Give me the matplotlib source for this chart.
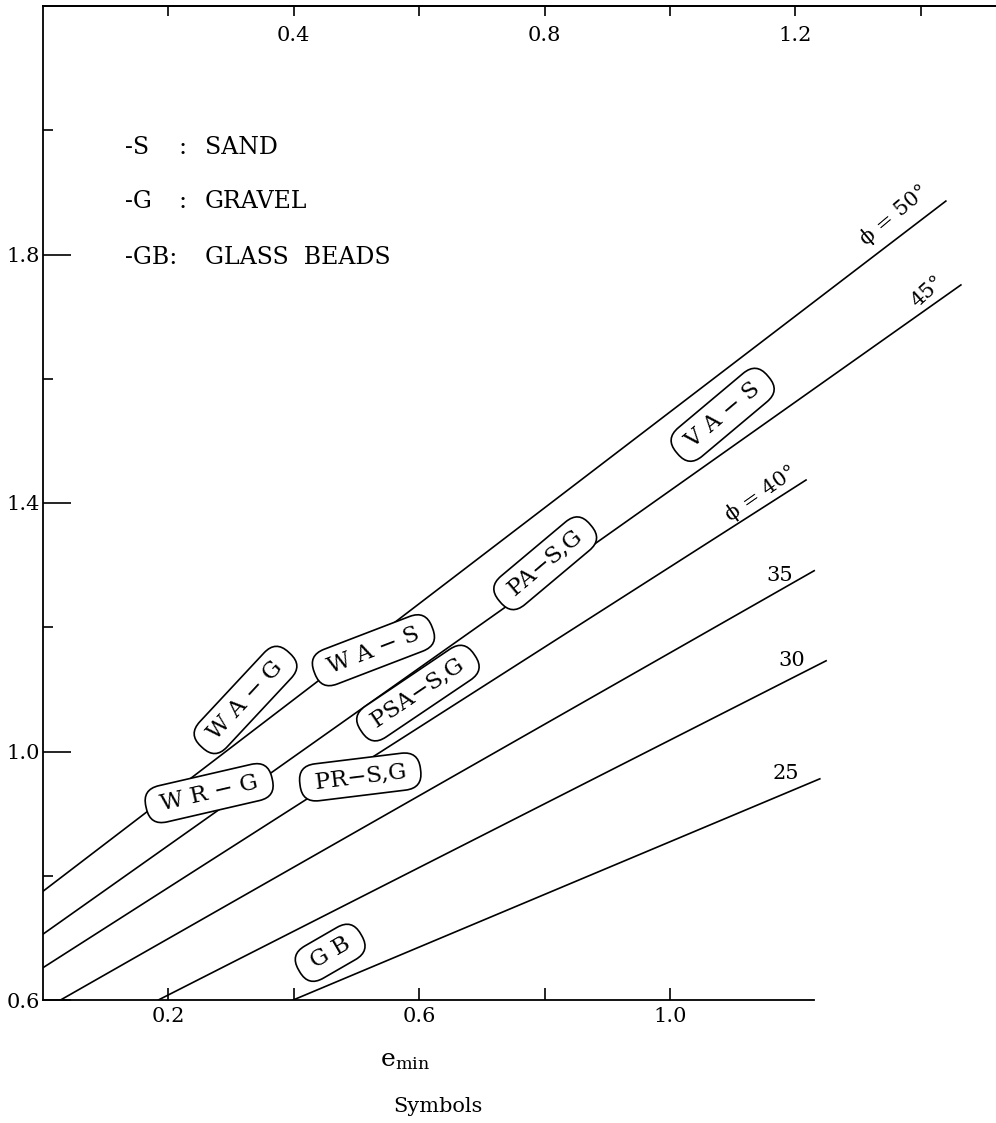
import matplotlib
matplotlib.use('Agg')
import matplotlib.pyplot as plt

plt.rcParams['font.family'] = ['DejaVu Serif']
plt.rcParams['mathtext.fontset'] = 'dejavuserif'

# friction angle lines, from (x0, y0) to (x1, y1) in (e_min, e_max)
phi_names = ['50', '45', '40', '35', '30', '25']
line_x0 = [0.0, 0.0, 0.0, 0.028, 0.184, 0.399]
line_y0 = [0.775, 0.706, 0.652, 0.6, 0.6, 0.6]
line_x1 = [1.44, 1.464, 1.217, 1.230, 1.249, 1.239]
line_y1 = [1.886, 1.751, 1.437, 1.291, 1.146, 0.956]

# labels at the line ends
phi_labels = ['ϕ = 50°', '45°', 'ϕ = 40°', '35', '30', '25']
phi_lx = [1.358, 1.411, 1.145, 1.175, 1.194, 1.185]
phi_ly = [1.864, 1.740, 1.416, 1.284, 1.146, 0.965]
phi_rot = [40, 42, 35, 0, 0, 0]

# material symbols (rounded boxes)
box_text = ['W A − G', 'W A − S', 'PSA−S,G', 'W R − G', 'PR−S,G', 'PA−S,G', 'V A − S', 'G B']
box_x = [0.323, 0.527, 0.598, 0.265, 0.506, 0.801, 1.084, 0.458]
box_y = [1.083, 1.163, 1.094, 0.933, 0.959, 1.303, 1.542, 0.676]
box_rot = [47, 21, 34, 13, 7, 40, 40, 30]

bottom_ticks = [0.2, 0.4, 0.6, 0.8, 1.0]
bottom_labels = ['0.2', '', '0.6', '', '1.0']
top_ticks = [0.2, 0.4, 0.6, 0.8, 1.0, 1.2, 1.4]
top_labels = ['', '0.4', '', '0.8', '', '1.2', '']
left_major = [0.6, 1.0, 1.4, 1.8]
left_minor = [0.8, 1.2, 1.6, 2.0]

legend_key = ['-S', '-G', '-GB:']
legend_colon = [':', ':', '']
legend_name = ['SAND', 'GRAVEL', 'GLASS  BEADS']

W, H = 996, 1123
fig = plt.figure(figsize=(W / 100, H / 100), dpi=100)
ax = fig.add_axes([43 / W, 123 / H, 953 / W, 994 / H])
ax.set_xlim(0, 1.52)
ax.set_ylim(0.6, 2.2)
ax.spines['right'].set_visible(False)
ax.spines['bottom'].set_bounds(0, 1.23)
for s in ax.spines.values():
    s.set_linewidth(1.3)

ax.set_xticks(bottom_ticks)
ax.set_xticklabels(bottom_labels)
ax.tick_params(axis='x', direction='in', length=9, width=1.2, pad=5, labelsize=15)
ax.set_yticks(left_major)
ax.set_yticklabels([f'{v:.1f}' for v in left_major])
ax.set_yticks(left_minor, minor=True)
ax.tick_params(axis='y', which='major', direction='in', length=20, width=1.2, pad=2, labelsize=15)
ax.tick_params(axis='y', which='minor', direction='in', length=7, width=1.2)

sec = ax.secondary_xaxis('top')
sec.set_xticks(top_ticks, labels=top_labels)
sec.tick_params(direction='in', length=7, width=1.2, pad=-28, labelsize=15)
sec.spines['top'].set_linewidth(1.3)

for i in range(len(phi_names)):
    ax.plot([line_x0[i], line_x1[i]], [line_y0[i], line_y1[i]], color='black', lw=1.2, zorder=2)
    ax.text(phi_lx[i], phi_ly[i], phi_labels[i], rotation=phi_rot[i], rotation_mode='anchor',
            ha='center', va='center', fontsize=15)

for i in range(len(box_text)):
    ax.text(box_x[i], box_y[i], ' ' + box_text[i] + ' ', rotation=box_rot[i], rotation_mode='anchor',
            ha='center', va='center', fontsize=16.5, zorder=5,
            bbox=dict(boxstyle='round,pad=0.33,rounding_size=0.75', fc='white', ec='black', lw=1.2))

# legend of suffixes, placed in figure pixels
rows_y = [147, 202, 257]
for i in range(3):
    fig.text(125 / W, 1 - rows_y[i] / H, legend_key[i], ha='left', va='center', fontsize=17)
    if legend_colon[i]:
        fig.text(182 / W, 1 - rows_y[i] / H, legend_colon[i], ha='center', va='center', fontsize=17)
    fig.text(205 / W, 1 - rows_y[i] / H, legend_name[i], ha='left', va='center', fontsize=17)

fig.text(405 / W, 1 - 1060 / H, r'$\mathregular{e_{min}}$', ha='center', va='center', fontsize=18)
fig.text(438 / W, 1 - 1107 / H, 'Symbols', ha='center', va='center', fontsize=15)

fig.savefig('out.png', dpi=100)
